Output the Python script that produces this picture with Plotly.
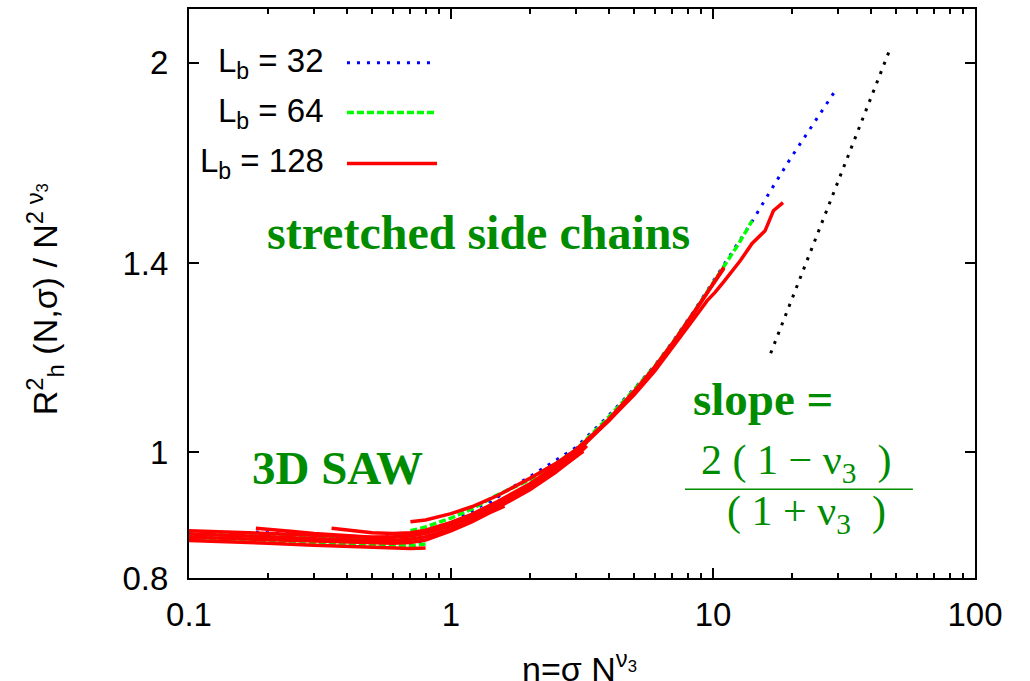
import plotly.graph_objects as go

# ---- scaled radius of gyration data, one list pair per chain length ----
# L_b = 32
b32_eta = [
    [0.1, 0.15, 0.2, 0.3, 0.4, 0.5, 0.6, 0.7, 0.8],
    [0.1, 0.15, 0.2, 0.3, 0.4, 0.5, 0.6, 0.7, 0.8, 1.0, 1.2, 1.4, 1.6],
    [0.1, 0.2, 0.3, 0.5, 0.7, 1.0, 1.5, 2.0, 2.5, 3.0, 3.3],
    [0.18, 0.3, 0.5, 0.7, 1.0, 1.5, 2.0, 3.0, 4.0, 5.0, 6.0, 7.0, 8.4, 10.0, 11.0,
     12.5, 14.1, 16.5, 19.7, 24.0, 29.0],
]
b32_r = [
    [0.857, 0.855, 0.853, 0.851, 0.849, 0.848, 0.848, 0.848, 0.852],
    [0.862, 0.860, 0.858, 0.856, 0.854, 0.853, 0.854, 0.856, 0.860, 0.874, 0.892, 0.912, 0.933],
    [0.866, 0.862, 0.860, 0.858, 0.862, 0.879, 0.910, 0.944, 0.978, 1.007, 1.020],
    [0.868, 0.863, 0.859, 0.863, 0.882, 0.925, 0.958, 1.009, 1.068, 1.120, 1.168, 1.217, 1.283,
     1.355, 1.396, 1.450, 1.508, 1.590, 1.685, 1.790, 1.897],
]

# L_b = 64
b64_eta = [
    [0.1, 0.15, 0.2, 0.3, 0.4, 0.5, 0.6, 0.7, 0.8],
    [0.1, 0.2, 0.3, 0.5, 0.7, 1.0, 1.5, 2.0, 2.5, 3.0, 3.3],
    [0.7, 0.8, 1.0, 1.2, 1.45, 1.8, 2.05, 2.3, 3.0, 4.0, 5.0, 6.0, 7.0, 8.4, 10.0, 11.0,
     12.5, 14.1],
]
b64_r = [
    [0.858, 0.856, 0.854, 0.852, 0.850, 0.849, 0.848, 0.847, 0.850],
    [0.865, 0.861, 0.859, 0.857, 0.861, 0.878, 0.908, 0.942, 0.975, 1.004, 1.018],
    [0.870, 0.876, 0.890, 0.904, 0.924, 0.944, 0.955, 0.968, 1.005, 1.065, 1.118, 1.166, 1.215,
     1.281, 1.352, 1.392, 1.448, 1.510],
]

# L_b = 128
b128_eta = [
    [0.1, 0.15, 0.2, 0.3, 0.4, 0.5, 0.6, 0.7, 0.8],
    [0.1, 0.15, 0.2, 0.3, 0.4, 0.5, 0.6, 0.7, 0.8, 1.0, 1.2, 1.4, 1.6],
    [0.1, 0.15, 0.2, 0.3, 0.4, 0.5, 0.6, 0.7, 0.8, 1.0, 1.2, 1.5, 2.0, 2.5, 3.0, 3.3],
    [0.1, 0.15, 0.2, 0.3, 0.4, 0.5, 0.6, 0.7, 0.8, 1.0, 1.2, 1.5, 2.0, 2.5, 3.0, 4.0, 5.0,
     6.0, 7.0, 8.4, 10.0, 11.0],
    [0.18, 0.2, 0.25, 0.3, 0.4, 0.5, 0.6, 0.7, 0.8, 1.0, 1.2, 1.5, 2.0, 2.5, 3.2],
    [0.35, 0.4, 0.5, 0.6, 0.7, 0.8, 1.0, 1.2, 1.5, 2.0, 2.5, 3.0, 4.0, 5.0, 6.0, 7.0, 8.4,
     10.0, 11.0],
    [0.7, 0.8, 1.0, 1.2, 1.5, 2.0, 2.5, 3.0, 4.0, 5.0, 6.0, 7.0, 8.4, 9.5, 10.2, 11.0, 12.7,
     14.1, 15.8, 17.0, 18.5],
]
b128_r = [
    [0.855, 0.853, 0.851, 0.848, 0.846, 0.845, 0.844, 0.843, 0.844],
    [0.860, 0.858, 0.856, 0.854, 0.852, 0.851, 0.851, 0.852, 0.856, 0.870, 0.884, 0.898, 0.909],
    [0.865, 0.863, 0.861, 0.858, 0.856, 0.855, 0.855, 0.857, 0.861, 0.873, 0.886, 0.906, 0.936,
     0.965, 0.993, 1.012],
    [0.870, 0.868, 0.866, 0.863, 0.861, 0.860, 0.861, 0.863, 0.867, 0.880, 0.893, 0.913, 0.943,
     0.972, 1.000, 1.058, 1.112, 1.162, 1.212, 1.278, 1.350, 1.390],
    [0.874, 0.872, 0.869, 0.866, 0.862, 0.860, 0.860, 0.862, 0.866, 0.878, 0.891, 0.910, 0.939,
     0.967, 1.002],
    [0.874, 0.871, 0.867, 0.866, 0.867, 0.871, 0.883, 0.896, 0.916, 0.946, 0.975, 1.003, 1.061,
     1.115, 1.165, 1.214, 1.280, 1.348, 1.387],
    [0.884, 0.887, 0.897, 0.908, 0.926, 0.955, 0.980, 1.005, 1.058, 1.108, 1.156, 1.204, 1.266,
     1.310, 1.330, 1.355, 1.406, 1.450, 1.483, 1.537, 1.559],
]

# asymptotic power law, slope 2(1-nu3)/(1+nu3) in log-log
slope_eta = [16.6, 47.0]
slope_r = [1.193, 2.04]

x_ticks = [0.1, 1, 10, 100]
x_tick_text = ["0.1", "1", "10", "100"]
x_minor = [m * d for d in (0.1, 1, 10) for m in range(2, 10)]
y_ticks = [0.8, 1, 1.4, 2]
y_tick_text = ["0.8", "1", "1.4", "2"]

legend_labels = ["L<sub>b</sub> = 32", "L<sub>b</sub> = 64", "L<sub>b</sub> = 128"]

BLUE = "#0000ff"
LIME = "#00ff00"
RED = "#ff0000"
TXT_GREEN = "#008c00"
SANS = "Liberation Sans, Arial, sans-serif"
SERIF = "Liberation Serif, Times New Roman, serif"

fig = go.Figure()

for xs, ys in zip(b32_eta, b32_r):
    fig.add_trace(go.Scatter(x=xs, y=ys, mode="lines", showlegend=False,
                             line=dict(color=BLUE, width=3, dash="3px,7px")))
for xs, ys in zip(b64_eta, b64_r):
    fig.add_trace(go.Scatter(x=xs, y=ys, mode="lines", showlegend=False,
                             line=dict(color=LIME, width=3.5, dash="7px,3px")))
for xs, ys in zip(b128_eta, b128_r):
    fig.add_trace(go.Scatter(x=xs, y=ys, mode="lines", showlegend=False,
                             line=dict(color=RED, width=3.5)))
fig.add_trace(go.Scatter(x=slope_eta, y=slope_r, mode="lines", showlegend=False,
                         line=dict(color="black", width=3, dash="3px,7px")))


def label(x, y, text, font, angle=0, xanchor="center"):
    fig.add_annotation(x=x, y=y, xref="paper", yref="paper", text=text,
                       showarrow=False, xanchor=xanchor, yanchor="middle",
                       textangle=angle, font=font)


# hand-placed key in the upper left corner
key_rows_y = [0.9054, 0.8179, 0.7285]
key_styles = [dict(color=BLUE, width=3, dash="3px,7px"),
              dict(color=LIME, width=3.5, dash="7px,3px"),
              dict(color=RED, width=3.5)]
for text, yy, st in zip(legend_labels, key_rows_y, key_styles):
    label(0.174, yy, text, dict(family=SANS, size=33, color="black"), xanchor="right")
    fig.add_shape(type="line", xref="paper", yref="paper", x0=0.201, x1=0.3155,
                  y0=yy, y1=yy, line=st)

# green labels
label(0.3677, 0.6077, "<b>stretched side chains</b>",
      dict(family=SERIF, size=48, color=TXT_GREEN))
label(0.1883, 0.1926, "<b>3D SAW</b>", dict(family=SERIF, size=47, color=TXT_GREEN))
label(0.7303, 0.3152, "<b>slope =</b>", dict(family=SERIF, size=47, color=TXT_GREEN))
label(0.772, 0.2014, "2 ( 1 \u2212 \u03bd<sub>3</sub>  )",
      dict(family=SERIF, size=42, color=TXT_GREEN))
label(0.785, 0.1121, "( 1 + \u03bd<sub>3</sub>  )",
      dict(family=SERIF, size=42, color=TXT_GREEN))
fig.add_shape(type="line", xref="paper", yref="paper", x0=0.631, x1=0.921,
              y0=0.1559, y1=0.1559, line=dict(color=TXT_GREEN, width=1.5))

# axis titles
label(-0.1832, 0.49,
      "R<sup>2</sup><sub>h</sub> (N,\u03c3) / N<sup>2 \u03bd<sub>3</sub></sup>",
      dict(family=SANS, size=34, color="black"), angle=-90)
label(0.497, -0.156, "\u03b7=\u03c3 N<sup>\u03bd<sub>3</sub></sup>",
      dict(family=SANS, size=34, color="black"))

axis_common = dict(showgrid=False, zeroline=False, showline=True, linecolor="black",
                   linewidth=2, mirror="allticks", ticks="inside", tickcolor="black",
                   tickwidth=1.5, tickfont=dict(family=SANS, size=33, color="black"))

fig.update_xaxes(type="log", range=[-1, 2], tickvals=x_ticks, ticktext=x_tick_text,
                 ticklen=10, ticklabelstandoff=6,
                 minor=dict(tickvals=x_minor, ticks="inside", ticklen=5,
                            tickcolor="black", tickwidth=1.5, showgrid=False),
                 **axis_common)
fig.update_yaxes(type="log", range=[-0.09691, 0.34242], tickvals=y_ticks,
                 ticktext=y_tick_text, ticklen=10, ticklabelstandoff=12, **axis_common)

fig.update_layout(width=1030, height=681, plot_bgcolor="white", paper_bgcolor="white",
                  margin=dict(l=189, r=55, t=7, b=103), showlegend=False)

fig.write_html("out.html")
